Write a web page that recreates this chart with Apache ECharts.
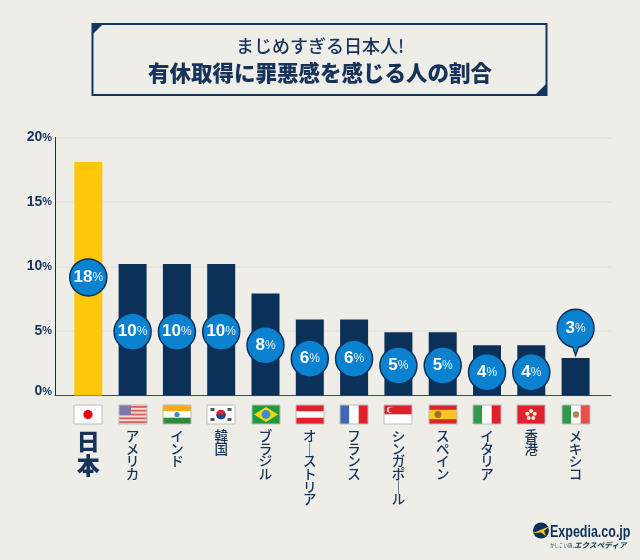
<!DOCTYPE html>
<html>
<head>
<meta charset="utf-8">
<style>
  html, body { margin: 0; padding: 0; background: #eeede8; }
  #chart { width: 640px; height: 560px; }
</style>
<script src="https://cdn.jsdelivr.net/npm/echarts@6/dist/echarts.min.js"></script>
</head>
<body>
<div id="chart"></div>
<script>
var countries = ['日本', 'アメリカ', 'インド', '韓国', 'ブラジル', 'オーストリア', 'フランス', 'シンガポール', 'スペイン', 'イタリア', '香港', 'メキシコ'];
var barValues = [18.1, 10.2, 10.2, 10.2, 7.9, 5.9, 5.9, 4.9, 4.9, 3.9, 3.9, 2.9];
var percentLabels = [18, 10, 10, 10, 8, 6, 6, 5, 5, 4, 4, 3];
var yTicks = [0, 5, 10, 15, 20];

var NAVY = '#0c3158';
var TEXT = '#17335a';
var BLUE = '#0a82cf';
var BG = '#eeede8';
var JP_FONT = '"Noto Sans CJK JP", sans-serif';
var NUM_FONT = '"Liberation Sans", Arial, sans-serif';

// 旗は 28x19 のローカル座標で描く
function r(x, y, w, h, fill) {
  return { type: 'rect', shape: { x: x, y: y, width: w, height: h }, style: { fill: fill } };
}
function c(cx, cy, radius, fill) {
  return { type: 'circle', shape: { cx: cx, cy: cy, r: radius }, style: { fill: fill } };
}
function usStripes() {
  var out = [r(0, 0, 28, 19, '#f3d9d4')];
  for (var i = 0; i < 5; i++) out.push(r(0, 1 + i * 3.8, 28, 1.8, '#d9605c'));
  out.push(r(0, 0, 12, 10, '#7d77ad'));
  return out;
}
var flags = [
  [r(0, 0, 28, 19, '#fff'), c(14, 9.5, 4.6, '#e60012')],
  usStripes(),
  [r(0, 0, 28, 6.3, '#f7a81b'), r(0, 6.3, 28, 6.4, '#fff'), r(0, 12.7, 28, 6.3, '#2e8b3a'), c(14, 9.5, 2.6, '#3a8fc4')],
  [r(0, 0, 28, 19, '#fff'), c(14, 9.5, 4.8, '#d8262e'),
    { type: 'path', shape: { pathData: 'M9.2 9.5A4.8 4.8 0 0 0 18.8 9.5C17 8 15.5 11 14 9.5C12.5 8 11 11 9.2 9.5Z' }, style: { fill: '#0f4c9c' } },
    r(3.5, 3, 4, 3, '#555'), r(20.5, 3, 4, 3, '#555'), r(3.5, 13, 4, 3, '#555'), r(20.5, 13, 4, 3, '#555')],
  [r(0, 0, 28, 19, '#1f9a3c'),
    { type: 'polygon', shape: { points: [[14, 2], [26, 9.5], [14, 17], [2, 9.5]] }, style: { fill: '#f6d40f' } },
    c(14, 9.5, 4.4, '#3a8fd0')],
  [r(0, 0, 28, 19, '#e2202c'), r(0, 6.3, 28, 6.4, '#fff')],
  [r(0, 0, 9.3, 19, '#3f68b5'), r(9.3, 0, 9.4, 19, '#fff'), r(18.7, 0, 9.3, 19, '#e2202c')],
  [r(0, 0, 28, 9.5, '#e2202c'), r(0, 9.5, 28, 9.5, '#fff'), c(6, 4.8, 3, '#fff'), c(7.2, 4.8, 2.6, '#e2202c')],
  [r(0, 0, 28, 19, '#d8262e'), r(0, 4.8, 28, 9.4, '#f6c81e'), c(9, 9.5, 3.4, '#9a7040')],
  [r(0, 0, 9.3, 19, '#2e9a4a'), r(9.3, 0, 9.4, 19, '#fff'), r(18.7, 0, 9.3, 19, '#e2202c')],
  [r(0, 0, 28, 19, '#e2202c'), c(14, 6, 2, '#fbe9dc'), c(10.3, 8.8, 2, '#fbe9dc'), c(17.7, 8.8, 2, '#fbe9dc'),
    c(11.7, 13, 2, '#fbe9dc'), c(16.3, 13, 2, '#fbe9dc')],
  [r(0, 0, 9.3, 19, '#2e9a4a'), r(9.3, 0, 9.4, 19, '#fff'), r(18.7, 0, 9.3, 19, '#e8504a'), c(14, 9.5, 3.2, '#a58a5a')]
];

function bubbleText(n) {
  return '{n|' + n + '}{p|%}';
}
var bubbleRich = {
  n: { fontFamily: NUM_FONT, fontWeight: 'bold', fontSize: 17, color: '#fff' },
  p: { fontFamily: NUM_FONT, fontSize: 12, color: '#e6f2fa' }
};

var chart = echarts.init(document.getElementById('chart'));

var option = {
  backgroundColor: BG,
  animation: false,
  title: [
    { text: 'まじめすぎる日本人!', left: 320, top: 37, padding: 0, textAlign: 'center',
      textStyle: { fontFamily: JP_FONT, fontSize: 18, fontWeight: 500, color: TEXT } },
    { text: '有休取得に罪悪感を感じる人の割合', left: 320, top: 62, padding: 0, textAlign: 'center',
      textStyle: { fontFamily: JP_FONT, fontSize: 21.5, fontWeight: 900, color: TEXT } }
  ],
  grid: [
    { left: 55, right: 29, top: 137.5, height: 258 },
    { left: 66.15, width: 531.6, top: 137.5, height: 258 }
  ],
  xAxis: [
    { gridIndex: 0, type: 'value', min: 0, max: 1, splitLine: { show: false }, axisTick: { show: false },
      axisLabel: { show: false }, axisLine: { show: true, lineStyle: { color: '#3a4f70', width: 1 } } },
    { gridIndex: 1, type: 'category', data: countries, axisLine: { show: false }, axisTick: { show: false },
      axisLabel: {
        interval: 0, margin: 34, color: TEXT, fontFamily: JP_FONT, fontSize: 13.5, fontWeight: 500, lineHeight: 12.7,
        formatter: function (name, i) {
          var chars = name.split('');
          if (i === 0) return chars.map(function (ch) { return '{big|' + ch + '}'; }).join('\n');
          // 縦書きの長音
          return chars.map(function (ch) { return ch === 'ー' ? '｜' : ch; }).join('\n');
        },
        rich: { big: { fontFamily: JP_FONT, fontSize: 23, fontWeight: 900, lineHeight: 24, color: TEXT } }
      } }
  ],
  yAxis: [
    { gridIndex: 0, type: 'value', min: 0, max: 20, interval: 5,
      axisLine: { show: true, lineStyle: { color: NAVY, width: 1 } }, axisTick: { show: false },
      splitLine: { lineStyle: { color: '#e4e3de', width: 1.5 } },
      axisLabel: {
        margin: 3,
        formatter: function (v) {
          return v === yTicks[0] ? '{zn|' + v + '}{zp|%}' : '{n|' + v + '}{p|%}';
        },
        rich: {
          n: { fontFamily: NUM_FONT, fontWeight: 'bold', fontSize: 14, color: TEXT },
          p: { fontFamily: NUM_FONT, fontWeight: 'bold', fontSize: 11, color: TEXT },
          zn: { fontFamily: NUM_FONT, fontWeight: 'bold', fontSize: 14, color: TEXT, padding: [0, 0, 8, 0] },
          zp: { fontFamily: NUM_FONT, fontWeight: 'bold', fontSize: 11, color: TEXT, padding: [0, 0, 8, 0] }
        }
      } },
    { gridIndex: 1, type: 'value', min: 0, max: 20, interval: 5, show: false }
  ],
  series: [
    {
      type: 'bar', xAxisIndex: 1, yAxisIndex: 1, barWidth: 28,
      data: barValues.map(function (v, i) {
        return { value: v, itemStyle: { color: i === 0 ? '#ffc70a' : NAVY } };
      })
    },
    {
      // 丸ラベル(バーの中ほど)
      type: 'scatter', xAxisIndex: 1, yAxisIndex: 1, symbol: 'circle', symbolSize: 37, z: 5,
      itemStyle: { color: BLUE, borderColor: '#10305a', borderWidth: 1.5, opacity: 1 },
      label: {
        show: true, position: 'inside', rich: bubbleRich,
        formatter: function (p) { return bubbleText(p.data[2]); }
      },
      data: percentLabels.slice(0, -1).map(function (n, i) {
        return [i, 0.525 * n - 0.3, n];
      })
    },
    {
      // 一番低いバーだけ上に吹き出し
      type: 'scatter', xAxisIndex: 1, yAxisIndex: 1, z: 5,
      symbol: 'path://M19 0A19 19 0 0 1 22 37.8L19 46L16 37.8A19 19 0 0 1 19 0Z',
      symbolSize: [37, 46], symbolKeepAspect: false,
      itemStyle: { color: BLUE, borderColor: '#10305a', borderWidth: 1.5, opacity: 1 },
      label: {
        show: true, position: 'inside', offset: [0, -3.5], rich: bubbleRich,
        formatter: function (p) { return bubbleText(p.data[2]); }
      },
      data: [[percentLabels.length - 1, barValues[barValues.length - 1] + 2, percentLabels[percentLabels.length - 1]]]
    },
    {
      // 国旗
      type: 'custom', xAxisIndex: 1, yAxisIndex: 1, clip: false, silent: true,
      data: countries.map(function (_, i) { return [i, 0]; }),
      renderItem: function (params, api) {
        var p = api.coord([api.value(0), 0]);
        var i = params.dataIndex;
        return {
          type: 'group', x: Math.round(p[0]) - 14, y: p[1] + 9.5,
          children: flags[i].concat([{
            type: 'rect', shape: { x: 0, y: 0, width: 28, height: 19 },
            style: { fill: 'none', stroke: '#bdbcb8', lineWidth: 1 }
          }])
        };
      }
    }
  ],
  graphic: [
    // タイトル枠
    { type: 'rect', z: -1, shape: { x: 92.5, y: 24, width: 454, height: 71 },
      style: { fill: 'none', stroke: '#12365f', lineWidth: 2 } },
    { type: 'polygon', shape: { points: [[92, 23], [104, 23], [92, 35]] }, style: { fill: '#12365f' } },
    { type: 'polygon', shape: { points: [[547, 96], [534, 96], [547, 83]] }, style: { fill: '#12365f' } },
    // ロゴ
    { type: 'circle', shape: { cx: 541, cy: 530.5, r: 8 }, style: { fill: NAVY } },
    { type: 'polygon', shape: { points: [[533, 533], [549, 526.5], [544, 531], [546, 536], [541, 532.5]] }, style: { fill: '#f8c81c' } },
    { type: 'text', x: 550, y: 525, scaleX: 0.78, style: { text: 'Expedia.co.jp', fontFamily: NUM_FONT, fontSize: 16, fontWeight: 'bold', fill: NAVY } },
    { type: 'text', x: 550, y: 543, style: { text: 'かしこい旅、', fontFamily: JP_FONT, fontSize: 4.5, fill: NAVY } },
    { type: 'text', x: 574, y: 541, style: { text: 'エクスペディア', fontFamily: JP_FONT, fontSize: 7.5, fontWeight: 'bold', fontStyle: 'italic', fill: NAVY } }
  ]
};

chart.setOption(option);
</script>
</body>
</html>
